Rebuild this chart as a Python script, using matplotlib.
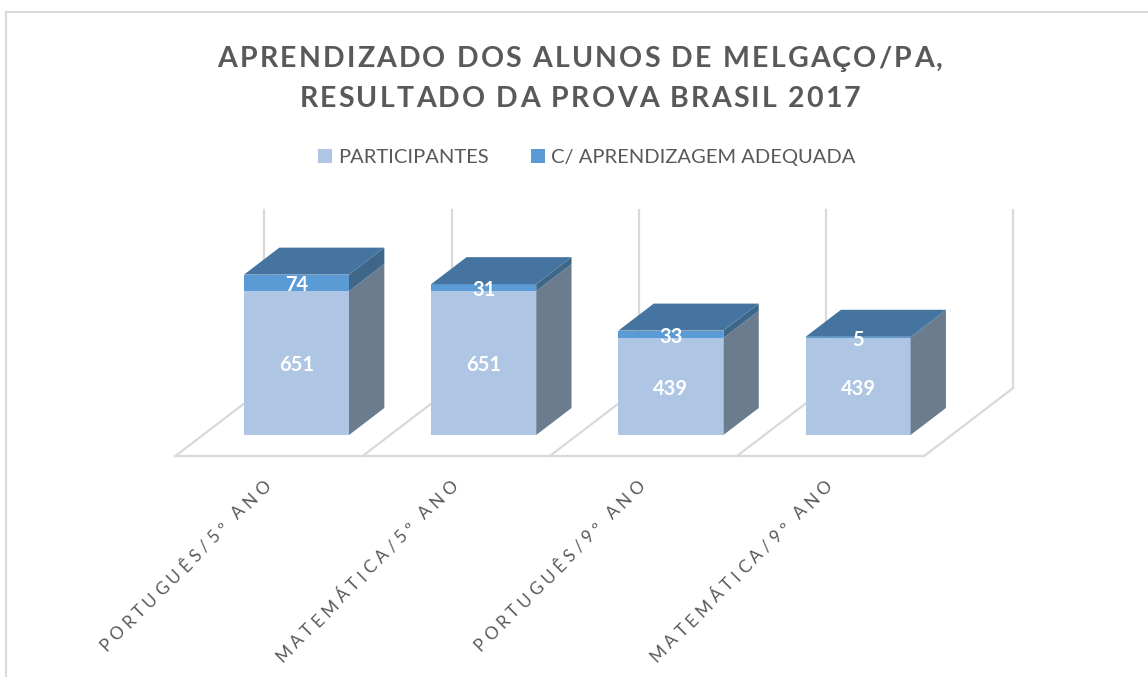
import matplotlib
matplotlib.use('Agg')
import matplotlib.pyplot as plt
from matplotlib.patches import Polygon, Rectangle
from matplotlib.lines import Line2D
from matplotlib.font_manager import FontProperties, findfont, get_font
from matplotlib.transforms import IdentityTransform
import numpy as np

# ---------------- data ----------------
categories = ['PORTUGUÊS/5º ANO', 'MATEMÁTICA/5º ANO', 'PORTUGUÊS/9º ANO', 'MATEMÁTICA/9º ANO']
participantes = [651, 651, 439, 439]
adequada = [74, 31, 33, 5]
series_names = ['PARTICIPANTES', 'C/ APRENDIZAGEM ADEQUADA']
title_lines = ['APRENDIZADO DOS ALUNOS DE MELGAÇO/PA,', 'RESULTADO DA PROVA BRASIL 2017']

# ---------------- style ----------------
W, H, DPI = 1148, 677, 100
FRONT_P = '#AEC6E4'
FRONT_A = '#5B9BD5'
SIDE_P = '#6B7C8F'
SIDE_A = '#3D6688'
TOP = '#44749F'
GRID = '#D9D9D9'
TXT = '#595959'

fig = plt.figure(figsize=(W / DPI, H / DPI), dpi=DPI)
ax = fig.add_axes([0, 0, 1, 1])
ax.axis('off')

# axis scale (pixel layout of the plot area)
x0_px, cat_px = 296.5, 187.2          # front-centre of first bar, category spacing
base_px, val_px = 435.0, 144.0 / 651  # image y of value 0, pixels per unit
ax.set_xlim(-x0_px / cat_px, (W - x0_px) / cat_px)
ax.set_ylim((base_px - H) / val_px, base_px / val_px)

# 3D geometry (in data units)
Dx, Dv = 89 / cat_px, 68 / val_px        # floor depth vector
f_front = 21 / 68                        # bar front position inside floor depth
f_bar = 27 / 68                          # bar depth
bar_w = 105 / cat_px
v_floor = -(456 - base_px) / val_px      # floor front edge
v_wall_top = (base_px - 210) / val_px

n = len(categories)
# floor & walls
fx_left = -0.5 - f_front * Dx
bounds = [fx_left + k for k in range(n + 1)]
ax.add_line(Line2D([bounds[0], bounds[-1]], [v_floor, v_floor], color=GRID, lw=1.6, zorder=1))
for b in bounds:
    ax.add_line(Line2D([b, b + Dx], [v_floor, v_floor + Dv], color=GRID, lw=1.6, zorder=1))
    ax.add_line(Line2D([b + Dx, b + Dx], [v_floor + Dv, v_wall_top], color=GRID, lw=1.6, zorder=1))

# bars
x = np.arange(n)
ax.bar(x, participantes, width=bar_w, color=FRONT_P, zorder=3, linewidth=0)
ax.bar(x, adequada, bottom=participantes, width=bar_w, color=FRONT_A, zorder=3, linewidth=0)
ddx, ddv = f_bar * Dx, f_bar * Dv
lab_off = 2.5 / val_px
for i in range(n):
    xl, xr = x[i] - bar_w / 2, x[i] + bar_w / 2
    p, a = participantes[i], adequada[i]
    top = p + a
    for (y0, y1, c) in [(0, p, SIDE_P), (p, top, SIDE_A)]:
        ax.add_patch(Polygon([(xr, y0), (xr + ddx, y0 + ddv), (xr + ddx, y1 + ddv), (xr, y1)],
                             closed=True, facecolor=c, edgecolor='none', zorder=3))
    ax.add_patch(Polygon([(xl, top), (xr, top), (xr + ddx, top + ddv), (xl + ddx, top + ddv)],
                         closed=True, facecolor=TOP, edgecolor='none', zorder=3))
    lab_fp = dict(family='Lato', weight='bold', size=14.5, color='white')
    ax.text(x[i], p / 2 - lab_off, str(p), ha='center', va='center', zorder=5, **lab_fp)
    ax.text(x[i], p + a / 2 - lab_off, str(a), ha='center', va='center', zorder=5, **lab_fp)


# ---------------- letter-spaced text helper ----------------
def advances(s, fp):
    f = get_font(findfont(fp))
    f.set_size(fp.get_size_in_points(), DPI)
    return [f.load_char(ord(c)).linearHoriAdvance / 65536 for c in s]


def spaced(s, fp, start, angle, spacing, color):
    """draw string s char by char (display px coords), baseline starts at start"""
    adv = advances(s, fp)
    u = np.array([np.cos(np.radians(angle)), np.sin(np.radians(angle))])
    pos = np.array(start, dtype=float)
    for c, w in zip(s, adv):
        fig.text(pos[0], pos[1], c, fontproperties=fp, color=color, rotation=angle,
                 rotation_mode='anchor', ha='left', va='baseline', transform=IdentityTransform())
        pos = pos + u * (w + spacing)


def total_len(s, fp, spacing):
    return sum(advances(s, fp)) + spacing * (len(s) - 1)


# title
tfp = FontProperties(family='Lato', weight='bold', size=20.5)
nat = sum(advances(title_lines[0], tfp))
t_space = (725 - nat) / (len(title_lines[0]) - 1)
for line, y_img in zip(title_lines, [67, 107]):
    L = total_len(line, tfp, t_space)
    spaced(line, tfp, (580 - L / 2, H - y_img), 0, t_space, TXT)

# legend
lfp = FontProperties(family='Lato', size=14.5)
for name, col, sx in zip(series_names, [FRONT_P, FRONT_A], [318, 531]):
    fig.patches.append(Rectangle((sx, H - 163), 14, 14, facecolor=col, edgecolor='none',
                                 transform=IdentityTransform(), figure=fig))
    fig.text(sx + 20, H - 163, name, fontproperties=lfp, color=TXT, ha='left', va='baseline',
             transform=IdentityTransform())

# category labels (45 deg, letter spaced)
cfp = FontProperties(family='Lato', size=12.5)
c_space = (234 - sum(advances(categories[0], cfp))) / (len(categories[0]) - 1)
fig.canvas.draw()
for i, cat in enumerate(categories):
    cx = fx_left + 0.5 + i
    px, py = ax.transData.transform((cx, v_floor))
    end = np.array([px + 2.5, py - 31])
    L = total_len(cat, cfp, c_space)
    u = np.array([np.cos(np.radians(45)), np.sin(np.radians(45))])
    spaced(cat, cfp, end - u * L, 45, c_space, TXT)

# outer chart frame
fig.lines.append(Line2D([6, 6], [H - 12, 0], color=GRID, lw=1.5, transform=IdentityTransform(), figure=fig))
fig.lines.append(Line2D([6, W], [H - 12, H - 12], color=GRID, lw=1.5, transform=IdentityTransform(), figure=fig))

fig.savefig('out.png', dpi=DPI)
